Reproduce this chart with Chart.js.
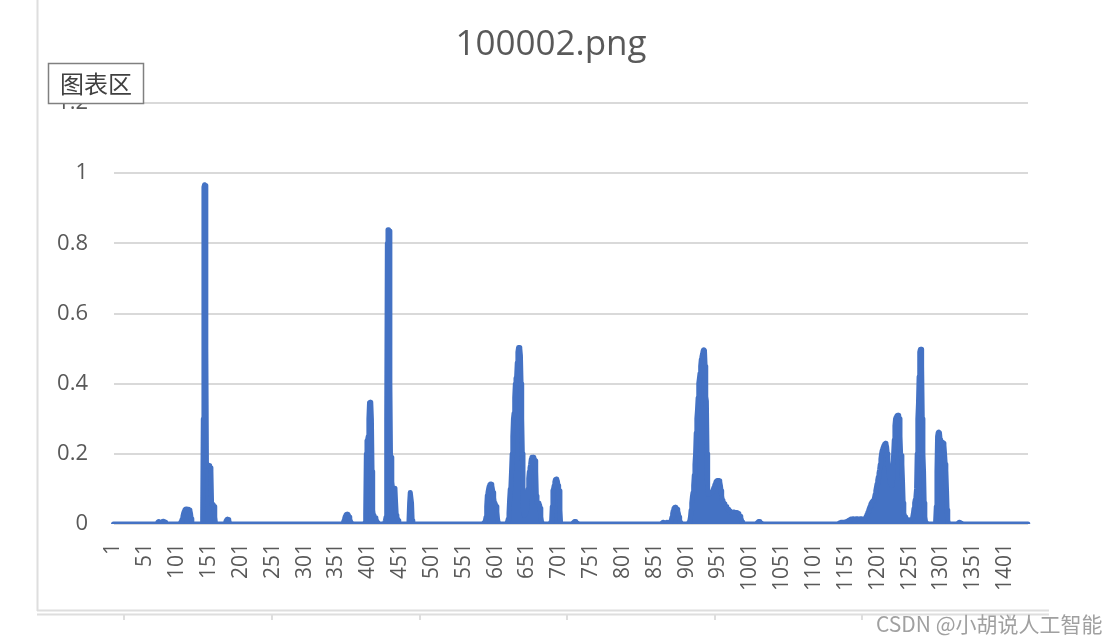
<!DOCTYPE html>
<html lang="zh-CN">
<head>
<meta charset="utf-8">
<title>100002.png</title>
<script src="https://cdn.jsdelivr.net/npm/chart.js@4.4.1/dist/chart.umd.min.js"></script>
<style>
  html, body { margin: 0; padding: 0; background: #fff; }
  #wrap { width: 1102px; height: 644px; position: relative; }
</style>
</head>
<body>
<div id="wrap"><canvas id="chart" width="1102" height="644"></canvas></div>
<script>
// Number of samples on the category axis (1 .. 1437)
const pointCount = 1437;

// Labels shown under the axis, every 50th sample
const xTickLabels = ['1', '51', '101', '151', '201', '251', '301', '351', '401', '451', '501', '551', '601', '651', '701',
    '751', '801', '851', '901', '951', '1001', '1051', '1101', '1151', '1201', '1251', '1301', '1351', '1401'];

// Y axis ticks
const yMin = 0;
const yMax = 1.2;
const yStep = 0.2;

// The signal is 0 everywhere except these bursts (first sample number, then the values)
const burstStart = [70, 106, 141, 177, 362, 396, 428, 465, 582, 619, 687, 722, 862, 904, 1011, 1140, 1292, 1327];
const burstValues = [
    [0.003, 0.006, 0.007, 0.006, 0.004, 0.002, 0.003, 0.005, 0.007, 0.008, 0.008, 0.007, 0.005, 0.002],
    [0.003, 0.006, 0.01, 0.015, 0.022, 0.03, 0.036, 0.04, 0.042, 0.043, 0.043, 0.042, 0.042, 0.041, 0.04, 0.038, 0.03, 0.015, 0.004],
    [0.02, 0.3, 0.96, 0.967, 0.965, 0.5, 0.168, 0.167, 0.166, 0.165, 0.167, 0.165, 0.16, 0.15, 0.06, 0.056, 0.055, 0.054, 0.05, 0.02, 0.004],
    [0.004, 0.01, 0.013, 0.014, 0.013, 0.01, 0.004],
    [0.004, 0.01, 0.016, 0.022, 0.026, 0.028, 0.028, 0.027, 0.025, 0.02, 0.014, 0.008, 0.003],
    [0.005, 0.03, 0.2, 0.237, 0.24, 0.25, 0.3, 0.346, 0.347, 0.346, 0.3, 0.15, 0.04, 0.025, 0.02, 0.02, 0.018, 0.015, 0.01, 0.004],
    [0.01, 0.02, 0.3, 0.8, 0.839, 0.839, 0.835, 0.4, 0.19, 0.19, 0.12, 0.104, 0.104, 0.104, 0.102, 0.1, 0.06, 0.025, 0.02, 0.015, 0.01, 0.004],
    [0.01, 0.06, 0.09, 0.09, 0.06, 0.01],
    [0.002, 0.004, 0.006, 0.01, 0.02, 0.05, 0.082, 0.09, 0.1, 0.108, 0.113, 0.114, 0.113, 0.11, 0.1, 0.09, 0.075, 0.06, 0.056, 0.055, 0.05, 0.035, 0.015, 0.003],
    [0.004, 0.008, 0.015, 0.03, 0.07, 0.1, 0.106, 0.15, 0.2, 0.25, 0.3, 0.316, 0.36, 0.4, 0.415, 0.42, 0.46, 0.49, 0.503, 0.503,
     0.5, 0.48, 0.4, 0.3, 0.2, 0.09, 0.03, 0.025, 0.025, 0.03, 0.04, 0.05, 0.07, 0.1, 0.13, 0.15, 0.16, 0.17, 0.185, 0.19,
     0.19, 0.19, 0.188, 0.185, 0.18, 0.15, 0.08, 0.062, 0.062, 0.06, 0.058, 0.055, 0.045, 0.02, 0.008, 0.002],
    [0.003, 0.006, 0.01, 0.05, 0.095, 0.1, 0.11, 0.12, 0.127, 0.128, 0.127, 0.122, 0.11, 0.1, 0.095, 0.04, 0.005],
    [0.002, 0.004, 0.006, 0.007, 0.007, 0.006, 0.004, 0.002],
    [0.002, 0.004, 0.005, 0.005, 0.004, 0.003, 0.003, 0.004, 0.005, 0.004, 0.003, 0.002, 0.003, 0.005, 0.008, 0.012, 0.02, 0.03, 0.038, 0.044,
     0.047, 0.048, 0.047, 0.045, 0.042, 0.037, 0.03, 0.02, 0.01, 0.004],
    [0.003, 0.006, 0.01, 0.02, 0.04, 0.06, 0.078, 0.09, 0.11, 0.14, 0.17, 0.2, 0.26, 0.3, 0.325, 0.36, 0.4, 0.415, 0.43, 0.45,
     0.47, 0.477, 0.485, 0.495, 0.497, 0.495, 0.45, 0.363, 0.35, 0.2, 0.09, 0.085, 0.087, 0.087, 0.087, 0.088, 0.09, 0.092, 0.095, 0.1,
     0.105, 0.11, 0.115, 0.12, 0.123, 0.124, 0.124, 0.124, 0.123, 0.12, 0.11, 0.095, 0.08, 0.068, 0.065, 0.062, 0.058, 0.055, 0.052, 0.05,
     0.047, 0.045, 0.042, 0.04, 0.038, 0.036, 0.034, 0.033, 0.033, 0.033, 0.034, 0.034, 0.034, 0.033, 0.033, 0.033, 0.032, 0.032, 0.03, 0.028,
     0.025, 0.022, 0.018, 0.012, 0.006, 0.002],
    [0.002, 0.004, 0.006, 0.007, 0.007, 0.006, 0.004, 0.002],
    [0.002, 0.003, 0.004, 0.004, 0.005, 0.005, 0.005, 0.005, 0.005, 0.005,
     0.006, 0.006, 0.007, 0.008, 0.009, 0.01, 0.011, 0.012, 0.013, 0.014,
     0.014, 0.014, 0.015, 0.015, 0.014, 0.014, 0.014, 0.015, 0.015, 0.015,
     0.015, 0.014, 0.014, 0.014, 0.015, 0.015, 0.015, 0.014, 0.014, 0.014,
     0.014, 0.015, 0.018, 0.022, 0.026, 0.03, 0.035, 0.04, 0.045, 0.05,
     0.055, 0.06, 0.063, 0.065, 0.067, 0.068, 0.075, 0.085, 0.095, 0.105,
     0.115, 0.125, 0.135, 0.145, 0.155, 0.17, 0.185, 0.2, 0.21, 0.215,
     0.22, 0.225, 0.228, 0.23, 0.228, 0.22, 0.2, 0.18, 0.16, 0.14,
     0.125, 0.115, 0.11, 0.115, 0.13, 0.16, 0.2, 0.24, 0.28, 0.3,
     0.305, 0.308, 0.31, 0.31, 0.308, 0.3, 0.25, 0.2, 0.195, 0.17,
     0.12, 0.06, 0.03, 0.025, 0.02, 0.015, 0.012, 0.01, 0.01, 0.011,
     0.012, 0.011, 0.01, 0.01, 0.012, 0.015, 0.02, 0.03, 0.045, 0.06,
     0.07, 0.078, 0.1, 0.2, 0.3, 0.344, 0.42, 0.49, 0.498, 0.498,
     0.45, 0.3, 0.2, 0.15, 0.06, 0.02, 0.008, 0.003],
    [0.01, 0.05, 0.15, 0.25, 0.261, 0.262, 0.26, 0.24, 0.232, 0.232, 0.233, 0.232, 0.23, 0.225, 0.2, 0.17, 0.154, 0.1, 0.04, 0.01, 0.003],
    [0.002, 0.004, 0.005, 0.005, 0.004, 0.002]
];

// Build category list and the full series from the bursts
const categories = Array.from({ length: pointCount }, (_, i) => String(i + 1));
const series = new Array(pointCount).fill(0);
burstStart.forEach((start, b) => {
    burstValues[b].forEach((v, k) => { series[start - 1 + k] = v; });
});
const shownLabels = new Set(xTickLabels);

const blue = '#4472C4';
const textGrey = '#595959';

// Sheet lines, the "图表区" tag and the watermark that sit around the chart
const decorPlugin = {
    id: 'decor',
    afterDraw(chart) {
        const ctx = chart.ctx;
        ctx.save();
        ctx.strokeStyle = '#dedede';
        ctx.lineWidth = 2;
        ctx.beginPath();
        ctx.moveTo(37.5, 0); ctx.lineTo(37.5, 611);
        ctx.moveTo(37, 610.5); ctx.lineTo(1049, 610.5);
        ctx.moveTo(37, 614.5); ctx.lineTo(1049, 614.5);
        [124, 272, 420, 567, 715, 862, 1010].forEach(x => {
            ctx.moveTo(x, 614); ctx.lineTo(x, 620);
        });
        ctx.stroke();

        // chart-area tag box, covers the top of the 1.2 label
        ctx.fillStyle = '#ffffff';
        ctx.fillRect(48.5, 63.5, 95, 40);
        ctx.strokeStyle = '#808080';
        ctx.lineWidth = 1.5;
        ctx.strokeRect(48.5, 63.5, 95, 40);
        ctx.fillStyle = '#404040';
        ctx.font = '24px "Noto Sans CJK SC"';
        ctx.textAlign = 'center';
        ctx.textBaseline = 'middle';
        ctx.fillText('图表区', 96, 84);

        // watermark
        ctx.fillStyle = '#a0a0a0';
        ctx.font = '21px "Noto Sans CJK SC"';
        ctx.textAlign = 'left';
        ctx.fillText('CSDN @小胡说人工智能', 876, 624);
        ctx.restore();
    }
};

const ctx = document.getElementById('chart').getContext('2d');
new Chart(ctx, {
    type: 'line',
    data: {
        labels: categories,
        datasets: [{
            label: '100002.png',
            data: series,
            borderColor: blue,
            backgroundColor: blue,
            borderWidth: 5,
            borderJoinStyle: 'round',
            borderCapStyle: 'round',
            fill: 'origin',
            pointRadius: 0,
            tension: 0
        }]
    },
    options: {
        responsive: false,
        animation: false,
        devicePixelRatio: 1,
        layout: { padding: 0 },
        plugins: {
            legend: { display: false },
            tooltip: { enabled: false },
            title: {
                display: true,
                text: '100002.png',
                color: textGrey,
                font: { family: '"Open Sans", sans-serif', size: 35, weight: 'normal' },
                padding: { top: 24.5, bottom: 36.5 }
            }
        },
        scales: {
            x: {
                type: 'category',
                grid: { display: false, drawTicks: false },
                border: { display: false },
                ticks: {
                    autoSkip: false,
                    minRotation: 90,
                    maxRotation: 90,
                    padding: 19,
                    color: textGrey,
                    font: { family: '"Open Sans", sans-serif', size: 21 },
                    callback: function(value, index) {
                        const lbl = categories[index];
                        return shownLabels.has(lbl) ? lbl : null;
                    }
                },
                afterFit: scale => { scale.height = 120; }
            },
            y: {
                min: yMin,
                max: yMax,
                grid: { color: '#d9d9d9', lineWidth: 2, drawTicks: false },
                border: { display: false },
                ticks: {
                    stepSize: yStep,
                    padding: 25.5,
                    color: textGrey,
                    font: { family: '"Open Sans", sans-serif', size: 22 },
                    // Excel style: 0, 0.2 ... 1, 1.2
                    callback: value => String(Number(value.toFixed(1)))
                },
                afterFit: scale => { scale.width = 113.5; }
            },
            // empty right-hand spacer so the plot ends at x = 1028 while the title stays centred on the page
            spacer: {
                position: 'right',
                grid: { display: false, drawTicks: false },
                border: { display: false },
                ticks: { display: false },
                afterFit: scale => { scale.width = 74; }
            }
        }
    },
    plugins: [decorPlugin]
});
</script>
</body>
</html>
